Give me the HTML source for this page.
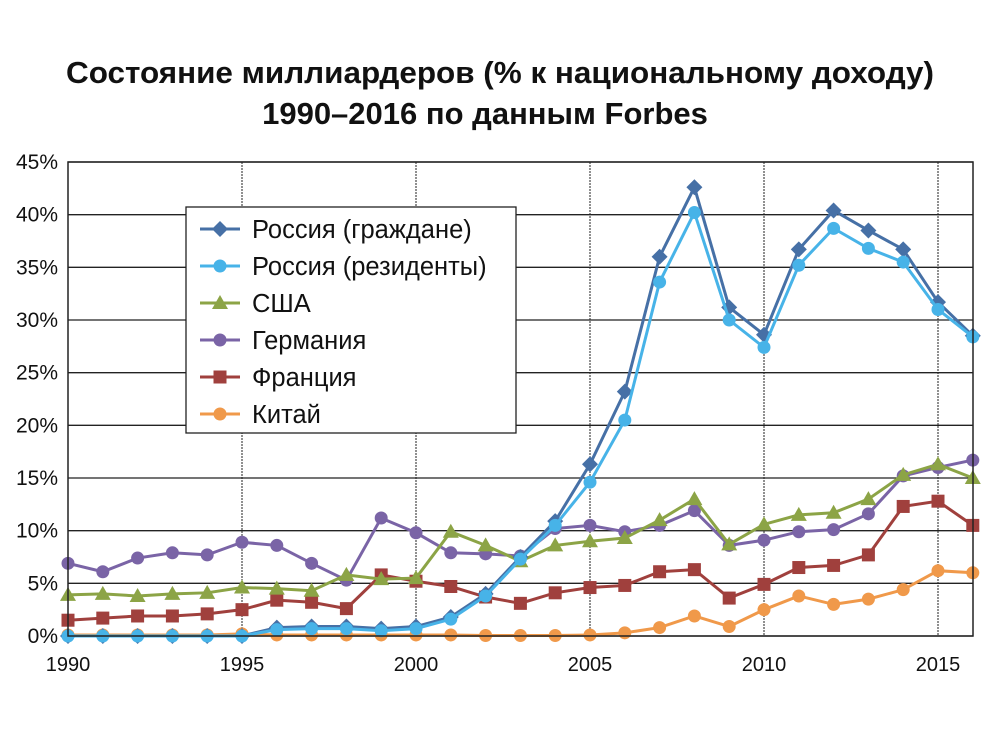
<!DOCTYPE html>
<html><head><meta charset="utf-8"><style>
body{margin:0;background:#fff;}
svg{display:block;font-family:"Liberation Sans",sans-serif;}
</style></head><body>
<svg id="c" width="1000" height="756">
<text x="500" y="83" text-anchor="middle" font-size="31" font-weight="bold" fill="#111" textLength="868" lengthAdjust="spacingAndGlyphs">Состояние миллиардеров (% к национальному доходу)</text>
<text x="485" y="124" text-anchor="middle" font-size="31" font-weight="bold" fill="#111">1990–2016 по данным Forbes</text>
<g id="grid"></g><g id="series"></g><g id="axes"></g><g id="legend"></g>
</svg>
<script>
const years=[1990,1991,1992,1993,1994,1995,1996,1997,1998,1999,2000,2001,2002,2003,2004,2005,2006,2007,2008,2009,2010,2011,2012,2013,2014,2015,2016];
const ruCitizens=[0,0,0,0,0,0,0.8,0.9,0.9,0.7,0.9,1.8,4.0,7.5,10.9,16.3,23.2,36.0,42.6,31.2,28.6,36.7,40.4,38.5,36.7,31.7,28.5];
const ruResidents=[0,0,0,0,0,0,0.6,0.7,0.7,0.5,0.7,1.6,3.8,7.3,10.5,14.6,20.5,33.6,40.2,30.0,27.4,35.2,38.7,36.8,35.5,31.0,28.4];
const usa=[3.9,4.0,3.8,4.0,4.1,4.6,4.5,4.3,5.8,5.4,5.5,9.9,8.6,7.1,8.6,9.0,9.3,11.0,13.0,8.7,10.6,11.5,11.7,13.0,15.3,16.3,15.0];
const germany=[6.9,6.1,7.4,7.9,7.7,8.9,8.6,6.9,5.3,11.2,9.8,7.9,7.8,7.6,10.2,10.5,9.9,10.5,11.9,8.6,9.1,9.9,10.1,11.6,15.2,16.0,16.7];
const france=[1.5,1.7,1.9,1.9,2.1,2.5,3.4,3.2,2.6,5.8,5.2,4.7,3.7,3.1,4.1,4.6,4.8,6.1,6.3,3.6,4.9,6.5,6.7,7.7,12.3,12.8,10.5];
const china=[0.1,0.1,0.1,0.1,0.1,0.2,0.1,0.1,0.1,0.1,0.1,0.1,0.05,0.05,0.05,0.1,0.3,0.8,1.9,0.9,2.5,3.8,3.0,3.5,4.4,6.2,6.0];
const yTicks=[0,5,10,15,20,25,30,35,40,45];
const xTicks=[1990,1995,2000,2005,2010,2015];
const seriesNames=["Россия (граждане)","Россия (резиденты)","США","Германия","Франция","Китай"];

const NS="http://www.w3.org/2000/svg";
const L=68,R=973,T=162,B=636;
const xs=y=>L+(y-1990)*(938-68)/25;
const ys=v=>B-v*(B-T)/45;
function mk(tag,attrs,parent){const e=document.createElementNS(NS,tag);for(const k in attrs)e.setAttribute(k,attrs[k]);parent.appendChild(e);return e;}
const grid=document.getElementById('grid'),axes=document.getElementById('axes'),ser=document.getElementById('series'),leg=document.getElementById('legend');
yTicks.forEach(t=>{
  const l=mk('line',{x1:L,x2:R,y1:ys(t),y2:ys(t),stroke:'#222','stroke-width':1.3},grid);
  
  
  const tx=mk('text',{x:58,y:ys(t)+7,'text-anchor':'end','font-size':21,fill:'#111'},axes);
  tx.textContent=t+'%';
  
  
});
xTicks.forEach(t=>{
  const l=mk('line',{x1:xs(t),x2:xs(t),y1:T,y2:B,stroke:'#222','stroke-width':1,'stroke-dasharray':'2,1'},grid);
  
  
  const tx=mk('text',{x:xs(t),y:671,'text-anchor':'middle','font-size':20,fill:'#111'},axes);
  tx.textContent=t;
  
  
});
const fr=mk('rect',{x:L,y:T,width:R-L,height:B-T,fill:'none',stroke:'#222','stroke-width':1.5},axes);



function marker(type,x,y,color,g){
  if(type==='diamond')return mk('polygon',{points:`${x},${y-8} ${x+8},${y} ${x},${y+8} ${x-8},${y}`,fill:color},g);
  if(type==='circle')return mk('circle',{cx:x,cy:y,r:6.5,fill:color},g);
  if(type==='tri')return mk('polygon',{points:`${x},${y-8} ${x+8},${y+6} ${x-8},${y+6}`,fill:color},g);
  return mk('rect',{x:x-6.5,y:y-6.5,width:13,height:13,fill:color},g);
}
const defs=[
 {d:china,c:'#f0994a',m:'circle',n:'china'},
 {d:france,c:'#a0403d',m:'square',n:'france'},
 {d:germany,c:'#7a64a6',m:'circle',n:'germany'},
 {d:usa,c:'#8ca446',m:'tri',n:'usa'},
 {d:ruCitizens,c:'#4670a6',m:'diamond',n:'russia-citizens'},
 {d:ruResidents,c:'#47b3e8',m:'circle',n:'russia-residents'}
];
defs.forEach(s=>{
  const g=mk('g',{},ser);
  
  
  const pts=s.d.map((v,i)=>xs(years[i])+','+ys(v)).join(' ');
  const pl=mk('polyline',{points:pts,fill:'none',stroke:s.c,'stroke-width':3},g);
  
  
  s.d.forEach((v,i)=>{
    const m=marker(s.m,xs(years[i]),ys(v),s.c,g);
    
    
  });
});
const lb=mk('rect',{x:186,y:207,width:330,height:226,fill:'#fff',stroke:'#222','stroke-width':1.3},leg);


const legOrder=[{c:'#4670a6',m:'diamond'},{c:'#47b3e8',m:'circle'},{c:'#8ca446',m:'tri'},{c:'#7a64a6',m:'circle'},{c:'#a0403d',m:'square'},{c:'#f0994a',m:'circle'}];
legOrder.forEach((s,i)=>{
  const y=229+i*37;
  const g=mk('g',{},leg);
  
  
  mk('line',{x1:200,x2:240,y1:y,y2:y,stroke:s.c,'stroke-width':3},g);
  marker(s.m,220,y,s.c,g);
  const t=mk('text',{x:252,y:y+9,'font-size':25.5,fill:'#111'},g);
  t.textContent=seriesNames[i];
});
</script>
</body></html>
